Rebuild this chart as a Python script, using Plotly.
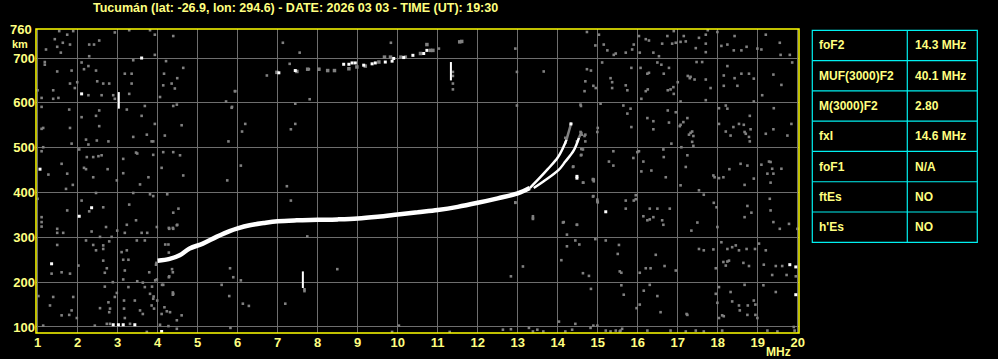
import plotly.graph_objects as go

W, H = 998, 359
ML, MR, MT, MB = 36, 199, 29, 26
PW, PH = W - ML - MR, H - MT - MB

YEL = "#FFFF80"
BORDER = "#FFFF00"
CYAN = "#00F0F0"
GRID = "#6E6E6E"
GRAY = "#808080"
FONT = "Liberation Sans"

title_text = "Tucumán (lat: -26.9, lon: 294.6) - DATE: 2026 03 03 - TIME (UT): 19:30"

freq_ticks = list(range(1, 21))
height_ticks = [100, 200, 300, 400, 500, 600, 700]
x_range = [0.96, 20.03]
y_range = [86.6, 764.7]

# main F2 echo trace (MHz, km)
f2_f = [4.0, 4.3, 4.55, 4.8, 5.13, 5.47, 5.8, 6.0, 6.3, 6.65, 7.0, 7.48, 8.0, 8.5,
        9.0, 9.5, 10.0, 10.5, 11.0, 11.5, 12.0, 12.5, 13.0, 13.3]
f2_h = [248, 252, 260, 275, 286, 301, 314, 320, 327, 332, 336, 338, 339, 340,
        342, 346, 351, 356, 361, 368, 377, 387, 398, 410]

# ordinary branch near the critical frequency
o_f = [13.3, 13.5, 13.75, 14.0, 14.15, 14.22]
o_h = [410, 428, 452, 478, 503, 518]
o_tail_f = [14.22, 14.34]
o_tail_h = [518, 556]

# extraordinary branch
x_f = [13.4, 13.65, 14.03, 14.19, 14.4, 14.53]
x_h = [410, 425, 451, 469, 494, 522]
x_tail_f = [14.53, 14.6]
x_tail_h = [522, 536]

# second-hop echo (dotted)
hop2_white = [(7.03, 667), (7.44, 672), (8.65, 686), (8.78, 686), (8.86, 689), (8.94, 689),
              (9.15, 684), (9.36, 687), (9.44, 689), (9.69, 691), (9.86, 693), (9.9, 699),
              (10.15, 701), (10.38, 706), (10.65, 710), (10.73, 717)]
hop2_gray = [(6.98, 668), (7.48, 670), (7.75, 675), (8.03, 675), (8.25, 672), (8.42, 672),
             (8.78, 676), (8.98, 680), (9.19, 682), (9.53, 691), (9.67, 702), (9.82, 702),
             (10.08, 702), (10.19, 702), (10.57, 710), (10.82, 717), (10.88, 717), (10.73, 730),
             (11.55, 736), (11.6, 737)]

# vertical interference spikes
spike_f = [3.03, 7.63, 11.33]
spike_h0 = [587, 187, 650]
spike_h1 = [624, 224, 691]

# scattered white noise pixels
noise_white = [(3.6, 700), (2.1, 620), (1.06, 452), (2.35, 366), (2.04, 347), (1.35, 241),
               (2.89, 105), (3.02, 105), (3.14, 105), (3.43, 105), (4.1, 90),
               (15.2, 357), (19.8, 239), (19.95, 234), (19.95, 172), (14.48, 432),
               (14.48, 436), (14.33, 553)]

# scattered grey noise pixels
noise_gray = [
    (1.54, 760), (1.89, 760), (1.74, 752), (1.43, 742), (1.63, 734), (1.81, 730), (1.49, 725),
    (1.21, 719), (1.58, 712), (2.93, 757), (3.29, 762), (3.81, 762), (3.93, 752), (4.39, 749),
    (2.29, 730), (2.41, 730), (2.54, 739), (2.29, 704), (3.93, 707), (1.18, 691), (1.18, 685),
    (2.1, 690), (2.27, 682), (2.16, 675), (2.46, 672), (1.85, 672), (1.49, 670), (3.39, 695),
    (4.21, 693), (4.64, 678), (3.18, 665), (3.35, 665), (4.16, 665), (4.49, 655), (1.0, 628),
    (1.39, 628), (1.39, 609), (1.1, 611), (1.52, 611), (1.81, 643), (1.99, 646), (1.93, 633),
    (2.49, 648), (2.64, 643), (2.79, 643), (2.27, 617), (2.6, 617), (2.89, 617), (3.29, 620),
    (3.35, 643), (2.93, 609), (4.14, 639), (4.35, 643), (4.43, 632), (4.06, 613), (5.71, 603),
    (5.93, 626), (1.1, 591), (1.79, 585), (2.54, 583), (2.1, 568), (2.46, 571), (3.23, 585),
    (3.68, 593), (3.6, 571), (4.39, 593), (4.48, 596), (1.1, 542), (1.14, 544), (1.81, 544),
    (2.54, 548), (3.93, 553), (4.6, 550), (3.39, 524), (3.73, 529), (4.18, 527), (1.85, 509),
    (2.21, 518), (2.27, 507), (2.48, 516), (2.77, 514), (3.85, 514), (3.89, 514), (5.85, 589),
    (5.77, 514), (1.14, 501), (1.1, 492), (2.04, 496), (2.23, 479), (2.39, 479), (2.52, 481),
    (2.6, 483), (3.14, 475), (3.46, 489), (3.49, 487), (3.89, 484), (4.14, 490), (4.39, 490),
    (4.56, 483), (1.6, 464), (2.16, 455), (2.21, 452), (1.74, 442), (1.27, 440), (2.75, 452),
    (2.39, 434), (3.14, 443), (3.77, 434), (4.1, 455), (4.64, 438), (3.56, 418), (1.71, 408),
    (1.88, 417), (2.98, 427), (5.74, 427), (1.0, 386), (2.1, 382), (2.46, 399), (3.39, 399),
    (3.81, 396), (3.89, 392), (4.24, 396), (3.29, 373), (2.64, 367), (2.29, 358), (1.74, 360),
    (1.1, 345), (1.1, 334), (1.1, 324), (3.46, 338), (3.23, 328), (4.39, 355), (4.52, 364),
    (4.48, 327), (4.29, 319), (4.39, 319), (3.98, 323), (2.71, 323), (2.99, 315), (3.74, 310),
    (3.6, 310), (3.18, 310), (2.35, 313), (1.49, 319), (1.49, 310), (1.64, 310), (2.56, 301),
    (2.85, 301), (2.21, 293), (1.49, 283), (2.39, 283), (2.64, 282), (3.48, 293), (3.68, 293),
    (4.27, 284), (2.46, 271), (2.64, 274), (2.79, 291), (3.1, 267), (3.23, 271), (3.14, 250),
    (3.27, 250), (2.64, 248), (2.73, 231), (2.68, 221), (2.02, 237), (1.6, 222), (1.35, 219),
    (1.81, 219), (3.18, 226), (3.96, 239), (3.79, 222), (4.29, 213), (5.81, 231), (5.89, 211),
    (3.98, 206), (3.14, 206), (2.88, 200), (3.49, 202), (3.63, 199), (1.02, 169), (1.39, 167),
    (1.31, 148), (1.89, 167), (2.68, 190), (2.98, 176), (2.93, 167), (2.77, 155), (2.81, 141),
    (2.79, 133), (3.16, 159), (3.16, 141), (3.68, 189), (3.81, 174), (3.89, 163), (3.99, 159),
    (3.85, 148), (3.91, 141), (3.56, 137), (3.63, 129), (3.18, 120), (3.27, 189), (4.17, 144),
    (4.23, 135), (4.31, 133), (4.1, 129), (1.85, 137), (1.79, 127), (1.98, 120), (1.6, 126),
    (2.56, 142), (3.43, 159), (4.6, 126), (4.48, 115), (4.14, 194), (4.39, 174), (5.6, 194),
    (5.79, 169), (2.73, 107), (2.81, 107), (3.31, 107), (2.43, 103), (1.14, 103), (4.06, 105),
    (4.27, 102), (4.48, 96), (3.73, 89), (3.97, 243), (4.19, 284), (4.28, 266), (4.36, 229),
    (4.38, 222), (4.28, 211), (3.94, 204), (4.11, 194), (3.86, 190), (3.9, 168), (4.38, 177),
    (4.38, 172), (4.28, 321), (4.38, 321), (4.49, 328),
    # middle region
    (6.08, 204), (7.74, 302), (8.49, 229), (7.67, 184), (7.67, 180), (12.94, 378), (13.38, 347),
    (13.38, 341), (14.13, 333), (14.48, 328), (14.23, 306), (14.44, 293), (14.54, 284),
    (14.23, 280), (14.94, 296), (14.09, 249), (13.13, 235), (12.83, 213), (14.63, 220),
    (14.78, 214), (14.88, 391), (15.0, 378), (14.59, 484), (14.64, 422), (14.88, 428),
    (5.82, 98), (6.13, 152), (6.28, 147), (7.19, 152), (10.03, 103), (9.86, 89), (11.3, 89),
    (12.63, 94), (12.83, 95), (13.28, 98), (13.49, 94), (13.38, 90), (13.64, 90), (14.03, 112),
    (14.44, 107), (14.19, 90), (14.36, 94), (14.82, 98),
    (7.13, 734), (7.55, 712), (7.3, 687), (6.73, 661), (5.94, 626), (7.78, 675), (8.03, 675),
    (7.8, 608), (7.44, 598), (5.86, 591), (6.19, 553), (6.11, 536), (7.44, 553), (7.33, 541),
    (6.08, 460), (7.23, 414), (7.33, 382), (9.83, 734), (11.03, 721), (11.38, 669),
    (11.38, 660), (11.38, 643), (11.38, 630), (12.94, 721), (12.98, 669), (13.65, 670),
    (12.98, 594), (14.73, 758), (14.73, 675), (14.69, 648), (14.67, 626), (14.58, 593),
    (14.57, 535), (14.67, 526), (14.48, 514), (14.58, 483), (14.63, 496), (14.38, 457),
    (14.63, 422), (14.15, 334), (14.48, 328), (13.38, 343), (12.94, 377), (14.57, 596),
    (14.6, 529), (14.69, 529), (14.69, 514), (14.19, 522), (14.19, 511), (14.59, 497),
    (14.39, 458), (14.88, 430), (14.99, 384),
    # right region
    (14.94, 728), (15.03, 752), (15.15, 730), (15.24, 717), (15.4, 707), (15.45, 710),
    (15.7, 712), (15.86, 719), (15.9, 730), (16.05, 712), (16.03, 749), (16.2, 742),
    (16.28, 739), (16.39, 712), (16.53, 704), (16.61, 732), (16.74, 749), (16.86, 732),
    (16.95, 734), (16.9, 760), (17.07, 736), (17.15, 749), (17.2, 737), (17.45, 722),
    (17.53, 745), (17.7, 752), (17.7, 732), (17.7, 713), (17.75, 762), (17.99, 758),
    (18.09, 727), (18.24, 730), (18.42, 749), (18.4, 717), (18.59, 717), (18.72, 725),
    (18.99, 721), (19.09, 719), (19.2, 752), (19.55, 734), (19.57, 707), (19.8, 707),
    (14.83, 672), (15.11, 690), (15.32, 655), (15.36, 646), (15.36, 633), (15.7, 639),
    (15.74, 628), (15.84, 678), (16.07, 678), (16.24, 665), (16.28, 667), (16.2, 626),
    (16.25, 630), (16.49, 690), (16.59, 685), (16.65, 665), (16.78, 678), (16.82, 630),
    (16.89, 635), (17.0, 646), (17.25, 660), (17.3, 655), (17.32, 658), (17.42, 652),
    (17.47, 691), (17.61, 691), (17.7, 652), (17.7, 606), (17.82, 633), (18.15, 661),
    (18.15, 638), (18.24, 682), (18.42, 655), (18.49, 638), (18.59, 665), (18.9, 654),
    (18.78, 665), (18.9, 603), (19.11, 617), (19.39, 663), (19.59, 640), (19.86, 690),
    (17.07, 603), (16.9, 620), (16.75, 628), (16.09, 609), (14.89, 638), (14.95, 633),
    (15.07, 598), (15.64, 594), (15.74, 576), (15.82, 587), (15.84, 546), (15.0, 544),
    (14.99, 535), (16.24, 566), (16.39, 559), (16.39, 541), (16.78, 556), (16.75, 583),
    (16.95, 579), (17.07, 551), (17.05, 548), (17.14, 557), (17.24, 566), (17.32, 533),
    (17.36, 536), (17.28, 529), (17.39, 526), (17.36, 513), (16.84, 509), (18.03, 588),
    (18.24, 587), (18.2, 594), (18.03, 553), (18.39, 546), (18.2, 536), (18.32, 527),
    (18.53, 553), (18.65, 551), (18.67, 535), (18.7, 531), (18.82, 541), (18.8, 571),
    (18.78, 524), (18.8, 514), (19.4, 588), (19.39, 541), (19.2, 531), (19.74, 527),
    (19.84, 553), (17.09, 501), (17.39, 504), (15.99, 490), (16.03, 492), (15.89, 477),
    (15.39, 492), (15.28, 469), (15.39, 460), (16.14, 469), (16.09, 447), (16.34, 449),
    (16.64, 496), (16.65, 479), (16.7, 434), (17.2, 457), (17.24, 483), (17.07, 416),
    (17.53, 405), (17.65, 395), (17.89, 438), (17.92, 434), (18.03, 432), (18.14, 434),
    (18.29, 452), (18.57, 464), (18.74, 460), (18.67, 417), (18.9, 431), (19.09, 462),
    (19.28, 469), (19.32, 468), (19.36, 453), (19.32, 422), (19.39, 442), (19.24, 442),
    (19.59, 453), (14.9, 429), (14.9, 425), (15.95, 394), (15.95, 385), (14.99, 380),
    (14.89, 392), (15.7, 382), (15.7, 364), (15.9, 382), (16.14, 347), (16.3, 364),
    (16.24, 338), (16.3, 340), (16.39, 345), (16.49, 364), (16.61, 338), (16.64, 328),
    (16.8, 364), (17.49, 333), (17.34, 315), (17.9, 377), (17.97, 367), (17.99, 323),
    (18.74, 370), (18.84, 355), (18.67, 345), (19.32, 360), (19.39, 334), (19.3, 386),
    (19.55, 319), (19.78, 330), (19.99, 319), (15.2, 293), (15.53, 283), (15.5, 263),
    (15.55, 224), (15.59, 221), (16.05, 221), (16.2, 231), (16.32, 231), (16.45, 261),
    (16.67, 236), (16.95, 226), (17.53, 274), (17.65, 271), (17.89, 273), (17.95, 231),
    (18.09, 289), (18.14, 245), (18.2, 237), (18.24, 246), (18.28, 248), (18.24, 274),
    (18.36, 278), (18.45, 282), (18.53, 271), (18.64, 243), (18.72, 274), (18.78, 236),
    (18.93, 274), (19.03, 286), (19.2, 271), (19.15, 239), (19.36, 216), (19.45, 236),
    (19.61, 236), (19.95, 213), (19.72, 216), (14.83, 185), (15.59, 193), (15.65, 172),
    (15.97, 142), (16.05, 150), (16.15, 181), (16.3, 194), (16.49, 169), (16.57, 133),
    (17.22, 129), (17.24, 127), (18.03, 189), (17.95, 174), (17.99, 154), (18.03, 120),
    (18.11, 126), (18.15, 124), (18.32, 178), (18.36, 157), (18.53, 148), (18.67, 194),
    (18.75, 148), (18.55, 137), (18.74, 127), (18.9, 159), (18.94, 150), (18.94, 127),
    (18.99, 120), (19.14, 193), (19.45, 178), (14.89, 103), (14.99, 103), (15.2, 92),
    (15.32, 90), (15.45, 92), (15.57, 92), (15.61, 96), (15.55, 90), (16.24, 92), (16.82, 92),
    (17.2, 90), (17.45, 92), (17.65, 90), (18.11, 92), (19.24, 92), (19.49, 90), (19.9, 100),
    (19.92, 92),
]

table_params = ["foF2", "MUF(3000)F2", "M(3000)F2", "fxI", "foF1", "ftEs", "h'Es"]
table_values = ["14.3 MHz", "40.1 MHz", "2.80", "14.6 MHz", "N/A", "NO", "NO"]


def px2x(px):
    return (px - ML) / PW


def py2y(py):
    return (H - MB - py) / PH


fig = go.Figure()

# grey noise
fig.add_trace(go.Scatter(
    x=[p[0] for p in noise_gray], y=[p[1] for p in noise_gray], mode="markers",
    marker=dict(symbol="square", size=2.6, color=GRAY, line=dict(width=0)),
    hoverinfo="skip", showlegend=False))
fig.add_trace(go.Scatter(
    x=[p[0] for p in hop2_gray], y=[p[1] for p in hop2_gray], mode="markers",
    marker=dict(symbol="square", size=3.5, color=GRAY, line=dict(width=0)),
    hoverinfo="skip", showlegend=False))
fig.add_trace(go.Scatter(
    x=o_tail_f, y=o_tail_h, mode="lines", line=dict(color=GRAY, width=2.5),
    hoverinfo="skip", showlegend=False))
fig.add_trace(go.Scatter(
    x=x_tail_f, y=x_tail_h, mode="lines", line=dict(color=GRAY, width=2.5),
    hoverinfo="skip", showlegend=False))

# white echoes
fig.add_trace(go.Scatter(
    x=f2_f, y=f2_h, mode="lines", line=dict(color="white", width=4.5, shape="spline"),
    hoverinfo="skip", showlegend=False))
fig.add_trace(go.Scatter(
    x=o_f, y=o_h, mode="lines", line=dict(color="white", width=2.5, shape="spline"),
    hoverinfo="skip", showlegend=False))
fig.add_trace(go.Scatter(
    x=x_f, y=x_h, mode="lines", line=dict(color="white", width=2.5, shape="spline"),
    hoverinfo="skip", showlegend=False))
fig.add_trace(go.Scatter(
    x=[p[0] for p in hop2_white], y=[p[1] for p in hop2_white], mode="markers",
    marker=dict(symbol="square", size=3, color="white", line=dict(width=0)),
    hoverinfo="skip", showlegend=False))
fig.add_trace(go.Scatter(
    x=[p[0] for p in noise_white], y=[p[1] for p in noise_white], mode="markers",
    marker=dict(symbol="square", size=3, color="white", line=dict(width=0)),
    hoverinfo="skip", showlegend=False))

sx, sy = [], []
for f, a, b in zip(spike_f, spike_h0, spike_h1):
    sx += [f, f, None]
    sy += [a, b, None]
fig.add_trace(go.Scatter(
    x=sx, y=sy, mode="lines", line=dict(color="white", width=2),
    hoverinfo="skip", showlegend=False))

tick_font = dict(family=FONT, size=13, color=YEL, weight="bold")
small_font = dict(family=FONT, size=12, color=YEL, weight="bold")
km_font = dict(family=FONT, size=11, color=YEL, weight="bold")
title_font = dict(family=FONT, size=12.5, color=YEL, weight="bold")

fig.update_xaxes(range=x_range, tickvals=freq_ticks, ticktext=[str(v) for v in freq_ticks],
                 showgrid=True, gridcolor=GRID, gridwidth=1, zeroline=False, showline=False,
                 ticks="", tickfont=tick_font, automargin=False, fixedrange=True)
fig.update_yaxes(range=y_range, tickvals=height_ticks, ticktext=[str(v) for v in height_ticks],
                 showgrid=True, gridcolor=GRID, gridwidth=1, zeroline=False, showline=False,
                 ticks="", tickfont=tick_font, automargin=False, fixedrange=True)

shapes = [dict(type="rect", xref="paper", yref="paper", x0=0, x1=1, y0=0, y1=1,
               line=dict(color=BORDER, width=1.5), layer="above")]

annotations = [
    dict(text=title_text, xref="paper", yref="paper", x=px2x(295), y=py2y(8),
         xanchor="center", yanchor="middle", showarrow=False, font=title_font),
    dict(text="760", xref="paper", yref="paper", x=0, y=py2y(29.5), xanchor="right",
         yanchor="middle", xshift=-3, borderpad=0, showarrow=False, font=tick_font),
    dict(text="km", xref="paper", yref="paper", x=0, y=py2y(43.5), xanchor="right",
         yanchor="middle", xshift=-7, borderpad=0, showarrow=False, font=km_font),
    dict(text="MHz", xref="paper", yref="paper", x=px2x(778), y=py2y(352), xanchor="center",
         yanchor="middle", borderpad=0, showarrow=False, font=small_font),
]

# parameter table
tx0, tx1, tcol = 812.3, 977.3, 907.3
ty0, ty1 = 30.3, 242.3
rh = (ty1 - ty0) / len(table_params)
shapes.append(dict(type="rect", xref="paper", yref="paper", x0=px2x(tx0), x1=px2x(tx1),
                   y0=py2y(ty1), y1=py2y(ty0), line=dict(color=CYAN, width=1.2)))
shapes.append(dict(type="line", xref="paper", yref="paper", x0=px2x(tcol), x1=px2x(tcol),
                   y0=py2y(ty1), y1=py2y(ty0), line=dict(color=CYAN, width=1.2)))
for i in range(1, len(table_params)):
    yy = py2y(ty0 + i * rh)
    shapes.append(dict(type="line", xref="paper", yref="paper", x0=px2x(tx0), x1=px2x(tx1),
                       y0=yy, y1=yy, line=dict(color=CYAN, width=1.2)))
for i, (p, v) in enumerate(zip(table_params, table_values)):
    yc = py2y(ty0 + (i + 0.5) * rh)
    annotations.append(dict(text=p, xref="paper", yref="paper", x=px2x(817), y=yc,
                            xanchor="left", yanchor="middle", showarrow=False, font=small_font))
    annotations.append(dict(text=v, xref="paper", yref="paper", x=px2x(912.5), y=yc,
                            xanchor="left", yanchor="middle", showarrow=False, font=small_font))

fig.update_layout(width=W, height=H, margin=dict(l=ML, r=MR, t=MT, b=MB, pad=0),
                  paper_bgcolor="black", plot_bgcolor="black", showlegend=False,
                  shapes=shapes, annotations=annotations)

fig.write_html("out.html", config={"displayModeBar": False})
